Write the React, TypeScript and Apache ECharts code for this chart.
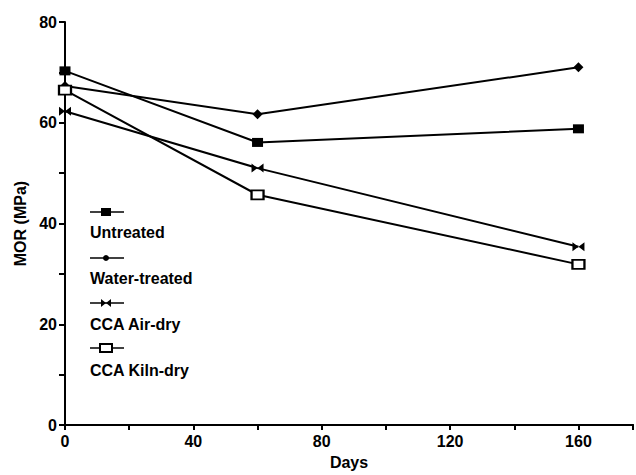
import React, { useEffect, useRef } from "react";
import * as echarts from "echarts";

const days = [0, 60, 160];
const untreated = [70.3, 56.1, 58.8];
const waterTreated = [67.3, 61.7, 71.0];
const ccaAirDry = [62.3, 51.0, 35.4];
const ccaKilnDry = [66.5, 45.7, 31.9];
const seriesNames = ["Untreated", "Water-treated", "CCA Air-dry", "CCA Kiln-dry"];
const xTickLabels = [0, 40, 80, 120, 160];
const yTickLabels = [0, 20, 40, 60, 80];

const FONT = "'Liberation Sans', Arial, Helvetica, sans-serif";
const BOWTIE = "path://M0,0L5,4L10,0L10,8L5,4L0,8Z";

export default function App() {
  const ref = useRef<HTMLDivElement>(null);
  useEffect(() => {
    if (!ref.current) return;
    const chart = echarts.init(ref.current, null, { renderer: "svg" });
    const pair = (vals: number[]) => days.map((d, i) => [d, vals[i]]);
    const lineStyle = { color: "#000", width: 2 };
    const legendX0 = 90;
    const legendX1 = 124;
    const legendMid = 106;
    const iconY = [212, 258, 303, 348];
    const textY = [232, 278, 324, 370];
    const legendLine = (y: number) => ({
      type: "line",
      shape: { x1: legendX0, y1: y, x2: legendX1, y2: y },
      style: { stroke: "#000", lineWidth: 1.5 },
    });
    const legendMarkers = [
      { type: "rect", shape: { x: legendMid - 5, y: iconY[0] - 4, width: 10, height: 8 }, style: { fill: "#000" } },
      { type: "circle", shape: { cx: legendMid, cy: iconY[1], r: 3 }, style: { fill: "#000" } },
      {
        type: "polygon",
        shape: { points: [[legendMid - 5, iconY[2] - 4], [legendMid, iconY[2]], [legendMid + 5, iconY[2] - 4], [legendMid + 5, iconY[2] + 4], [legendMid, iconY[2]], [legendMid - 5, iconY[2] + 4]] },
        style: { fill: "#000" },
      },
      { type: "rect", shape: { x: legendMid - 6, y: iconY[3] - 4, width: 12, height: 8 }, style: { fill: "#fff", stroke: "#000", lineWidth: 2 } },
    ];
    const graphic: any[] = [];
    seriesNames.forEach((name, i) => {
      graphic.push(legendLine(iconY[i]));
      graphic.push(legendMarkers[i]);
      graphic.push({
        type: "text",
        x: legendX0,
        y: textY[i],
        style: { text: name, font: `bold 16px ${FONT}`, fill: "#000", textVerticalAlign: "middle" },
      });
    });

    chart.setOption({
      animation: false,
      backgroundColor: "#fff",
      grid: { left: 65, right: 0, top: 22, bottom: 42 },
      xAxis: [
        {
          type: "value",
          min: 0,
          max: 177,
          interval: 20,
          name: "Days",
          nameLocation: "middle",
          nameGap: 24,
          nameTextStyle: { fontFamily: FONT, fontSize: 16, fontWeight: "bold", color: "#000" },
          axisLine: { show: true, onZero: false, lineStyle: { color: "#000", width: 2 } },
          axisTick: { show: true, inside: false, length: 5, lineStyle: { color: "#000", width: 2 } },
          axisLabel: {
            margin: 8,
            fontFamily: FONT,
            fontSize: 16,
            fontWeight: "bold",
            color: "#000",
            formatter: (v: number) => (xTickLabels.includes(v) ? String(v) : ""),
          },
          splitLine: { show: false },
        },
        {
          type: "value",
          position: "top",
          min: 0,
          max: 177,
          axisLine: { show: true, lineStyle: { color: "#000", width: 2 } },
          axisTick: { show: false },
          axisLabel: { show: false },
          splitLine: { show: false },
        },
      ],
      yAxis: {
        type: "value",
        min: 0,
        max: 80,
        interval: 10,
        name: "MOR (MPa)",
        nameLocation: "middle",
        nameGap: 36,
        nameTextStyle: { fontFamily: FONT, fontSize: 16, fontWeight: "bold", color: "#000" },
        axisLine: { show: true, lineStyle: { color: "#000", width: 2 } },
        axisTick: { show: true, inside: false, length: 6, lineStyle: { color: "#000", width: 2 } },
        axisLabel: {
          margin: 8,
          fontFamily: FONT,
          fontSize: 16,
          fontWeight: "bold",
          color: "#000",
          formatter: (v: number) => (yTickLabels.includes(v) ? String(v) : ""),
        },
        splitLine: { show: false },
      },
      graphic,
      series: [
        {
          name: seriesNames[0],
          type: "line",
          data: pair(untreated),
          symbol: "rect",
          symbolSize: [11, 9],
          itemStyle: { color: "#000" },
          lineStyle,
        },
        {
          name: seriesNames[1],
          type: "line",
          data: pair(waterTreated),
          symbol: "diamond",
          symbolSize: [10, 10],
          itemStyle: { color: "#000" },
          lineStyle,
        },
        {
          name: seriesNames[2],
          type: "line",
          data: pair(ccaAirDry),
          symbol: BOWTIE,
          symbolSize: [12, 9],
          itemStyle: { color: "#000" },
          lineStyle,
        },
        {
          name: seriesNames[3],
          type: "line",
          data: pair(ccaKilnDry),
          symbol: "rect",
          symbolSize: [12, 9],
          itemStyle: { color: "#fff", borderColor: "#000", borderWidth: 2 },
          lineStyle,
        },
      ],
    });
    return () => chart.dispose();
  }, []);
  return (
    <div
      ref={ref}
      style={{ position: "fixed", left: 0, top: 0, width: 636, height: 475, background: "#fff" }}
    />
  );
}
